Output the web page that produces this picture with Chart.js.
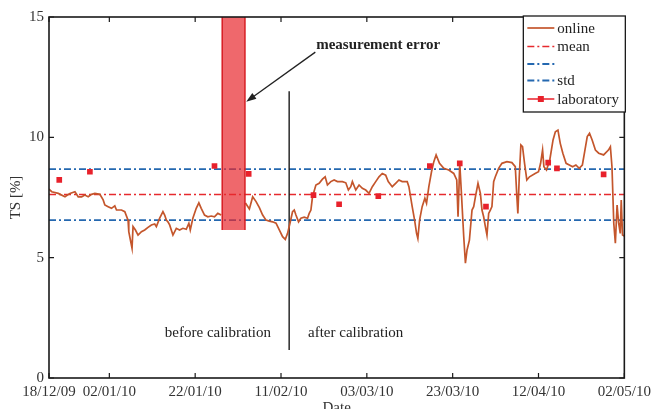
<!DOCTYPE html>
<html>
<head>
<meta charset="utf-8">
<script src="https://cdn.jsdelivr.net/npm/chart.js@4.4.1/dist/chart.umd.min.js"></script>
<style>
    html, body { margin: 0; padding: 0; background: #fff; }
</style>
</head>
<body>
<canvas id="tsChart" width="656" height="409"></canvas>
<script>
// x values are days counted from 18/12/09
const tickDays = [0.94, 15, 35, 55, 75, 95, 115, 135];
const tickLabels = ['18/12/09', '02/01/10', '22/01/10', '11/02/10', '03/03/10', '23/03/10', '12/04/10', '02/05/10'];
const yTicks = [0, 5, 10, 15];

// online TS probe (null = missing while the sensor was faulty)
const onlineDays = [0.94, 1.57, 3.10, 4.66, 5.82, 6.98, 7.75, 8.54, 9.30, 10.07,
    10.86, 11.63, 12.79, 13.56, 13.95, 14.72, 15.51, 16.27, 16.67, 17.83,
    18.60, 19.36, 19.53, 19.99, 20.29, 20.52, 21.08, 21.69, 22.48, 23.24,
    24.01, 24.80, 25.57, 25.96, 26.73, 27.49, 27.89, 28.28, 28.65, 29.05,
    29.82, 30.61, 31.37, 32.14, 32.93, 33.53, 33.86, 34.46, 35.25, 35.86,
    36.41, 37.18, 37.95, 38.74, 39.50, 40.27, 41.06, 43.9, 46.71, 47.63,
    48.40, 49.19, 49.96, 50.72, 51.51, 52.28, 53.05, 53.84, 54.60, 55.37,
    56.00, 56.53, 57.09, 57.69, 58.09, 58.48, 59.09, 59.64, 60.41, 61.18,
    61.57, 61.97, 62.34, 63.13, 63.89, 64.66, 65.29, 65.82, 66.61, 67.38,
    68.15, 69.31, 70.10, 70.70, 71.26, 71.63, 72.42, 73.19, 73.95, 74.74,
    75.51, 76.28, 77.07, 77.83, 78.60, 79.39, 79.99, 80.92, 81.71, 82.48,
    83.24, 84.41, 84.80, 85.57, 86.13, 86.59, 86.89, 87.29, 87.89, 88.52,
    88.91, 89.45, 90.07, 90.61, 91.14, 91.93, 92.93, 94.09, 95.25, 95.95,
    96.25, 96.65, 97.04, 97.58, 97.97, 98.35, 98.90, 99.51, 99.90, 100.30,
    100.90, 101.46, 101.83, 102.22, 102.62, 102.99, 103.39, 103.78, 104.15, 104.55,
    104.94, 105.71, 106.48, 107.64, 108.80, 109.59, 109.96, 110.19, 110.52, 110.89,
    111.28, 111.75, 112.28, 112.91, 114.21, 115.00, 115.49, 115.95, 116.26, 116.86,
    117.63, 118.39, 118.93, 119.53, 120.07, 120.67, 121.43, 122.18, 122.95, 123.71,
    124.48, 125.22, 125.82, 126.36, 126.89, 127.50, 128.26, 129.03, 130.17, 131.29,
    131.75, 132.12, 132.54, 132.91, 133.31, 133.68, 134.05, 134.28, 134.58, 134.98];
const onlineTS = [7.85, 7.74, 7.67, 7.53, 7.67, 7.74, 7.53, 7.53, 7.60, 7.53,
    7.63, 7.67, 7.63, 7.40, 7.19, 7.12, 7.05, 7.15, 6.98, 6.98,
    6.91, 6.56, 6.08, 5.66, 5.39, 6.29, 6.15, 5.94, 6.08, 6.15,
    6.26, 6.36, 6.40, 6.29, 6.64, 6.91, 6.77, 6.56, 6.49, 6.36,
    5.94, 6.22, 6.15, 6.22, 6.18, 6.43, 6.15, 6.64, 7.05, 7.28,
    7.05, 6.77, 6.70, 6.73, 6.70, 6.84, 6.77, null, 7.27, 7.02,
    7.53, 7.33, 7.08, 6.77, 6.56, 6.52, 6.49, 6.43, 6.15, 5.87,
    5.76, 6.01, 6.43, 6.91, 6.98, 6.77, 6.49, 6.64, 6.68, 6.64,
    6.84, 6.98, 7.53, 8.02, 8.09, 8.26, 8.36, 8.02, 8.16, 8.23,
    8.16, 8.16, 8.11, 7.81, 7.95, 8.16, 7.81, 8.02, 7.88, 7.81,
    7.67, 7.95, 8.16, 8.36, 8.50, 8.43, 8.16, 7.95, 8.09, 8.23,
    8.16, 8.16, 7.95, 7.12, 6.56, 6.01, 5.80, 6.56, 7.12, 7.47,
    7.26, 7.95, 8.57, 8.99, 9.27, 8.92, 8.71, 8.64, 8.50, 8.23,
    6.70, 8.92, 7.67, 5.87, 4.77, 5.32, 5.73, 6.98, 7.12, 7.53,
    8.09, 7.67, 6.98, 6.70, 6.29, 5.94, 6.84, 6.98, 7.12, 8.16,
    8.36, 8.71, 8.92, 8.99, 8.95, 8.78, 7.53, 6.84, 8.36, 9.68,
    9.61, 8.92, 8.23, 8.36, 8.50, 8.57, 8.92, 9.47, 8.78, 8.64,
    9.06, 9.89, 10.23, 10.30, 9.75, 9.34, 8.92, 8.85, 8.78, 8.85,
    8.71, 8.85, 9.47, 10.03, 10.17, 9.89, 9.47, 9.34, 9.27, 9.47,
    9.61, 8.78, 6.43, 5.60, 7.19, 6.43, 6.01, 7.40, 5.94, 5.90];

const labDays = [3.33, 10.47, 39.50, 47.47, 62.57, 68.54, 77.67, 89.68, 96.65, 102.76, 117.26, 119.30, 130.17];
const labTS = [8.23, 8.57, 8.81, 8.48, 7.60, 7.22, 7.56, 8.81, 8.92, 7.12, 8.95, 8.71, 8.46];

const meanTS = 7.62;
const stdBand = [6.56, 8.68];

// faulty period and calibration date
const errorDays = [41.3, 46.6];
const errorTS = [6.15, 15];
const calibrationDay = 56.9;
const calibrationTS = [1.16, 11.92];

const arrowDays = [63.0, 46.9];
const arrowTS = [13.54, 11.48];
const noteTexts = ['measurement error', 'before calibration', 'after calibration'];
const noteDays = [63.2, 40.3, 72.4];
const noteTS = [13.84, 1.87, 1.87];

const serif = "'Liberation Serif', 'DejaVu Serif', serif";
const dashDot = [7, 3, 2, 3];

function pares(xs, ys) {
    return xs.map((x, i) => ({ x: x, y: ys[i] }));
}

// box, inner ticks, error band, arrow, notes and legend
const moldura = {
    id: 'moldura',
    afterDatasetsDraw(chart) {
        const { ctx, chartArea: a, scales: { x, y } } = chart;
        ctx.save();

        const ex0 = x.getPixelForValue(errorDays[0]);
        const ex1 = x.getPixelForValue(errorDays[1]);
        const ey0 = y.getPixelForValue(errorTS[1]);
        const ey1 = y.getPixelForValue(errorTS[0]);
        ctx.fillStyle = 'rgba(232, 40, 45, 0.7)';
        ctx.fillRect(ex0, ey0, ex1 - ex0, ey1 - ey0);
        ctx.strokeStyle = '#d81e24';
        ctx.lineWidth = 1.5;
        ctx.beginPath();
        ctx.moveTo(ex0, ey1); ctx.lineTo(ex0, ey0);
        ctx.moveTo(ex1, ey0); ctx.lineTo(ex1, ey1);
        ctx.stroke();

        // arrow
        const ax0 = x.getPixelForValue(arrowDays[0]), ay0 = y.getPixelForValue(arrowTS[0]);
        const ax1 = x.getPixelForValue(arrowDays[1]), ay1 = y.getPixelForValue(arrowTS[1]);
        const ang = Math.atan2(ay1 - ay0, ax1 - ax0);
        ctx.strokeStyle = '#222';
        ctx.fillStyle = '#222';
        ctx.lineWidth = 1.3;
        ctx.beginPath();
        ctx.moveTo(ax0, ay0);
        ctx.lineTo(ax1 - 6 * Math.cos(ang), ay1 - 6 * Math.sin(ang));
        ctx.stroke();
        ctx.beginPath();
        ctx.moveTo(ax1, ay1);
        ctx.lineTo(ax1 - 10 * Math.cos(ang) + 3.5 * Math.sin(ang), ay1 - 10 * Math.sin(ang) - 3.5 * Math.cos(ang));
        ctx.lineTo(ax1 - 10 * Math.cos(ang) - 3.5 * Math.sin(ang), ay1 - 10 * Math.sin(ang) + 3.5 * Math.cos(ang));
        ctx.closePath();
        ctx.fill();

        // notes
        ctx.textBaseline = 'middle';
        ctx.fillStyle = '#222';
        noteTexts.forEach((t, i) => {
            ctx.font = (i === 0 ? 'bold ' : '') + '15px ' + serif;
            ctx.textAlign = i === 0 ? 'left' : 'center';
            ctx.fillText(t, x.getPixelForValue(noteDays[i]), y.getPixelForValue(noteTS[i]));
        });

        // axes box with inward ticks
        ctx.strokeStyle = '#1a1a1a';
        ctx.lineWidth = 1.6;
        ctx.setLineDash([]);
        ctx.strokeRect(a.left, a.top, a.width, a.height);
        ctx.lineWidth = 1.2;
        ctx.beginPath();
        tickDays.forEach(d => {
            const px = x.getPixelForValue(d);
            ctx.moveTo(px, a.bottom); ctx.lineTo(px, a.bottom - 5);
            ctx.moveTo(px, a.top); ctx.lineTo(px, a.top + 5);
        });
        yTicks.forEach(v => {
            const py = y.getPixelForValue(v);
            ctx.moveTo(a.left, py); ctx.lineTo(a.left + 5, py);
            ctx.moveTo(a.right, py); ctx.lineTo(a.right - 5, py);
        });
        ctx.stroke();

        // legend
        const lx = a.right - 101, ly = a.top - 1, lw = 102, lh = 96;
        const linhas = [12, 30.5, 48, 64.5, 83];
        ctx.fillStyle = '#fff';
        ctx.fillRect(lx, ly, lw, lh);
        ctx.strokeStyle = '#1a1a1a';
        ctx.lineWidth = 1.3;
        ctx.strokeRect(lx, ly, lw, lh);
        ctx.font = '15px ' + serif;
        ctx.textAlign = 'left';
        chart.data.datasets.filter(ds => ds.naLegenda).forEach((ds, i) => {
            const ry = ly + linhas[i];
            ctx.strokeStyle = ds.legendaCor || ds.borderColor;
            ctx.lineWidth = ds.borderWidth || 1.5;
            ctx.setLineDash(ds.borderDash || []);
            ctx.beginPath();
            ctx.moveTo(lx + 4, ry);
            ctx.lineTo(lx + 31, ry);
            ctx.stroke();
            ctx.setLineDash([]);
            if (ds.showLine === false) {
                ctx.fillStyle = ds.backgroundColor;
                ctx.fillRect(lx + 14.5, ry - 3, 6, 6);
            }
            ctx.fillStyle = '#222';
            ctx.fillText(ds.label, lx + 34, ry + 1);
        });
        ctx.restore();
    }
};

new Chart(document.getElementById('tsChart'), {
    type: 'line',
    data: {
        datasets: [
            {
                label: 'online',
                data: pares(onlineDays, onlineTS),
                borderColor: '#c4562c',
                borderWidth: 1.7,
                pointRadius: 0,
                order: 1,
                naLegenda: true
            },
            {
                label: 'mean',
                data: pares([tickDays[0], tickDays[tickDays.length - 1]], [meanTS, meanTS]),
                borderColor: '#e62a2e',
                borderWidth: 1.5,
                borderDash: dashDot,
                pointRadius: 0,
                order: 3,
                naLegenda: true
            },
            {
                label: '',
                data: pares([tickDays[0], tickDays[tickDays.length - 1]], [stdBand[1], stdBand[1]]),
                borderColor: '#2468b0',
                borderWidth: 1.8,
                borderDash: dashDot,
                pointRadius: 0,
                order: 3,
                naLegenda: true
            },
            {
                label: 'std',
                data: pares([tickDays[0], tickDays[tickDays.length - 1]], [stdBand[0], stdBand[0]]),
                borderColor: '#2468b0',
                borderWidth: 1.8,
                borderDash: dashDot,
                pointRadius: 0,
                order: 3,
                naLegenda: true
            },
            {
                label: 'laboratory',
                data: pares(labDays, labTS),
                showLine: false,
                pointStyle: 'rect',
                pointRadius: 4,
                pointBorderWidth: 0,
                backgroundColor: '#e8212b',
                borderColor: '#e8212b',
                legendaCor: '#e8212b',
                order: 0,
                naLegenda: true
            },
            {
                label: 'calibration',
                data: pares([calibrationDay, calibrationDay], calibrationTS),
                borderColor: '#1a1a1a',
                borderWidth: 1.4,
                pointRadius: 0,
                order: 2
            }
        ]
    },
    options: {
        responsive: false,
        animation: false,
        events: [],
        layout: { padding: { top: 17, right: 30, bottom: 0, left: 0 } },
        plugins: {
            legend: { display: false },
            tooltip: { enabled: false }
        },
        scales: {
            x: {
                type: 'linear',
                min: tickDays[0],
                max: tickDays[tickDays.length - 1],
                afterBuildTicks: s => { s.ticks = tickDays.map(v => ({ value: v })); },
                afterFit: s => { s.height = 31; },
                grid: { display: false, drawTicks: false },
                border: { display: false },
                ticks: {
                    autoSkip: false,
                    maxRotation: 0,
                    padding: 5,
                    color: '#333',
                    font: { family: serif, size: 15 },
                    callback: (v, i) => tickLabels[i]
                },
                title: {
                    display: true,
                    text: 'Date',
                    color: '#333',
                    font: { family: serif, size: 15, lineHeight: 1 },
                    padding: { top: 0, bottom: -7 }
                }
            },
            y: {
                min: 0,
                max: 15,
                afterBuildTicks: s => { s.ticks = yTicks.map(v => ({ value: v })); },
                afterFit: s => { s.width = 49; },
                grid: { display: false, drawTicks: false },
                border: { display: false },
                ticks: {
                    padding: 5,
                    color: '#333',
                    font: { family: serif, size: 15 }
                },
                title: {
                    display: true,
                    text: 'TS [%]',
                    color: '#333',
                    font: { family: serif, size: 15 },
                    padding: { top: 7, bottom: 0 }
                }
            }
        }
    },
    plugins: [moldura]
});
</script>
</body>
</html>
